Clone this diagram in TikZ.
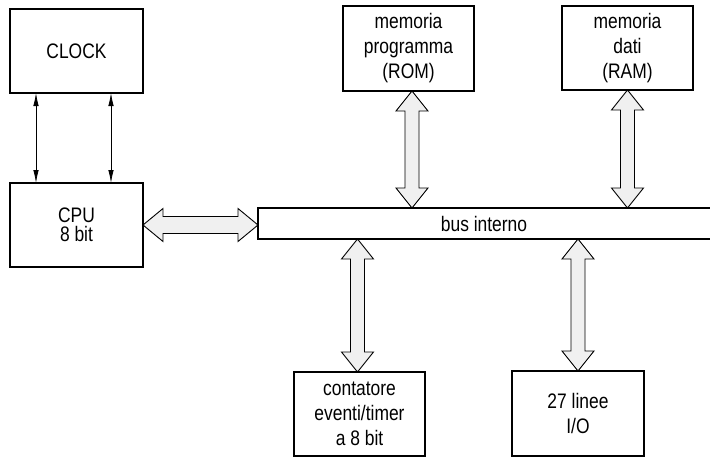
\documentclass[tikz,border=0pt]{standalone}
\usepackage{fontspec}
\setmainfont{Liberation Sans}[FakeStretch=0.83]
\usetikzlibrary{calc,arrows.meta}

\pgfdeclarelayer{background}
\pgfsetlayers{background,main}

% head length, head half-width, shaft half-width of the wide bus arrows
\newcommand\hl{20pt}
\newcommand\hw{16pt}
\newcommand\sw{7pt}

% wide double-headed bus arrow between two named points
\newcommand\fatlink[2]{%
  \draw[fatarrow] (#1)
    -- ($(#1)!\hl!(#2)!\hw!90:(#2)$)
    -- ($(#1)!\hl!(#2)!\sw!90:(#2)$)
    -- ($(#2)!\hl!(#1)!\sw!-90:(#1)$)
    -- ($(#2)!\hl!(#1)!\hw!-90:(#1)$)
    -- (#2)
    -- ($(#2)!\hl!(#1)!\hw!90:(#1)$)
    -- ($(#2)!\hl!(#1)!\sw!90:(#1)$)
    -- ($(#1)!\hl!(#2)!\sw!-90:(#2)$)
    -- ($(#1)!\hl!(#2)!\hw!-90:(#2)$)
    -- cycle;}

\tikzset{
  block/.style={draw, line width=1.3pt, inner sep=0pt, outer sep=0pt,
    align=center, font=\fontsize{21}{25}\selectfont},
  fatarrow/.style={draw, line width=0.9pt, fill=gray!12, line join=miter},
  busline/.style={line width=1.3pt},
  thin/.style={line width=0.8pt, {Latex[length=13pt,width=5.5pt]}-{Latex[length=13pt,width=5.5pt]}}
}

\begin{document}
\begin{tikzpicture}[x=1pt,y=-1pt]
\useasboundingbox (0,0) rectangle (710,458);

% blocks
\node[block, minimum width=133, minimum height=84] (clock) at (76.5,51) {CLOCK};
\node[block, minimum width=133, minimum height=84,
      font=\fontsize{21}{19.5}\selectfont] (cpu) at (76.5,225) {CPU\\8 bit};
\node[block, minimum width=131, minimum height=85] (rom) at (408.5,48.5)
  {memoria\\programma\\(ROM)};
\node[block, minimum width=131, minimum height=84] (ram) at (627.5,48)
  {memoria\\dati\\(RAM)};
\node[block, minimum width=131, minimum height=84] (cnt) at (359.5,414)
  {contatore\\eventi/timer\\a 8 bit};
\node[block, minimum width=132, minimum height=85] (io) at (578,413.5)
  {27 linee\\I/O};

% internal bus, open towards the right edge
\node[inner sep=0pt, outer sep=0pt, minimum width=452, minimum height=31,
      anchor=north west, font=\fontsize{21}{25}\selectfont] (bus) at (258,208) {bus interno};
\draw[busline] (bus.north east) -- (bus.north west) -- (bus.south west) -- (bus.south east);

% clock lines
\coordinate (ck1) at ($(clock.south west)+(26,0)$);
\coordinate (ck2) at ($(clock.south west)+(101,0)$);
\draw[thin] (ck1) -- (ck1 |- cpu.north);
\draw[thin] (ck2) -- (ck2 |- cpu.north);

% bus connections
\coordinate (romA) at ($(rom.south)+(3.5,0)$);
\coordinate (romB) at (romA |- bus.north);
\coordinate (ramA) at (ram.south);
\coordinate (ramB) at (ramA |- bus.north);
\coordinate (cntA) at ($(cnt.north)+(-2,0)$);
\coordinate (cntB) at (cntA |- bus.south);
\coordinate (ioA) at (io.north);
\coordinate (ioB) at (ioA |- bus.south);
\coordinate (cpuA) at (cpu.east);
\coordinate (cpuB) at (cpuA -| bus.west);

\begin{pgfonlayer}{background}
  \fatlink{romA}{romB}
  \fatlink{ramA}{ramB}
  \fatlink{cntB}{cntA}
  \fatlink{ioB}{ioA}
  \renewcommand\hw{16.5pt}\renewcommand\sw{8.5pt}
  \fatlink{cpuA}{cpuB}
\end{pgfonlayer}
\end{tikzpicture}
\end{document}
